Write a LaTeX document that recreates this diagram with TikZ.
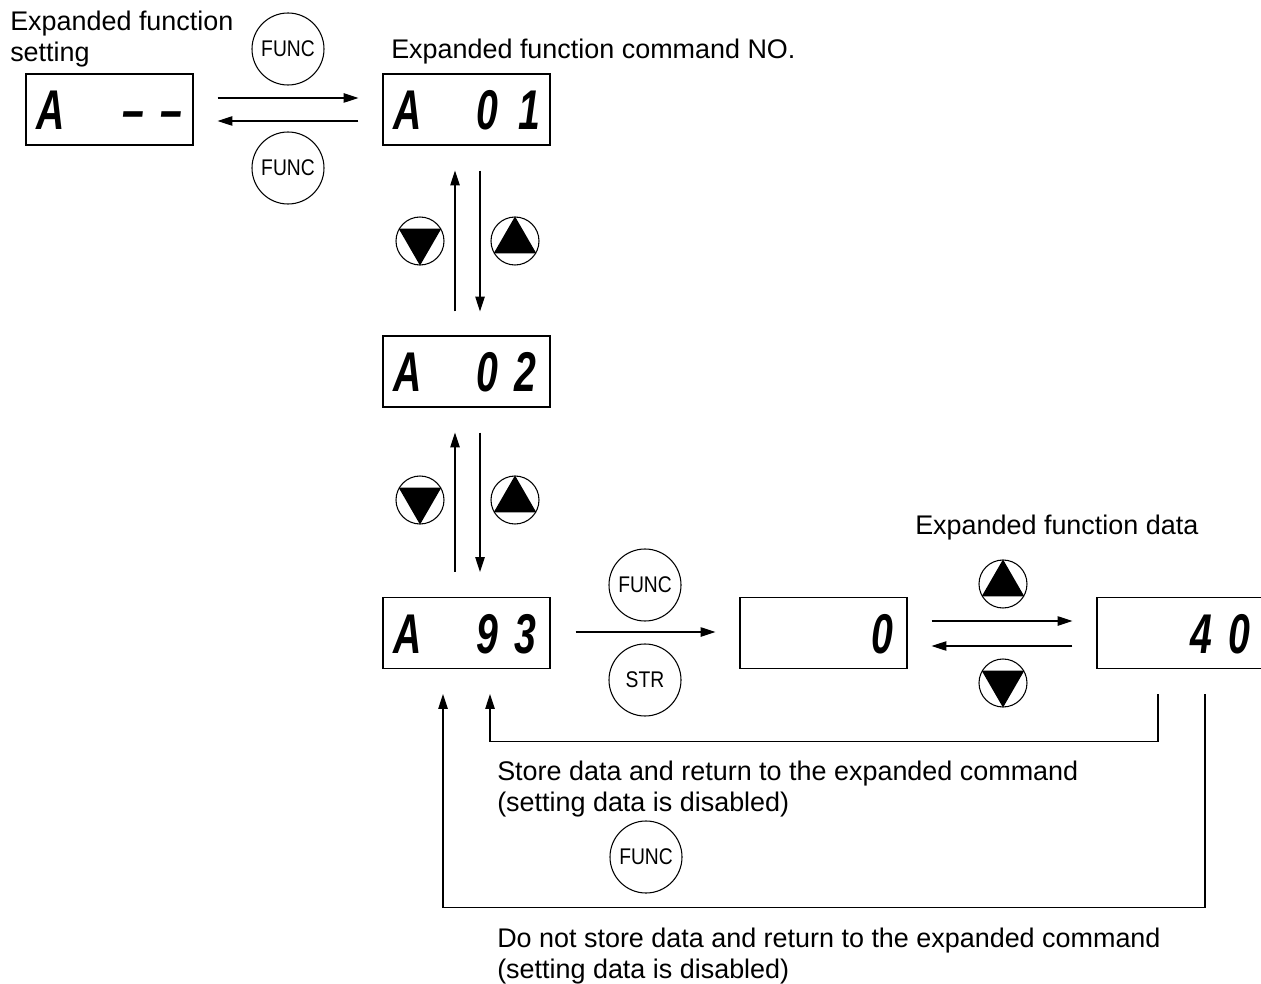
\documentclass[tikz,border=0pt]{standalone}
\usepackage{fontspec}
\setmainfont{Liberation Sans}
\newfontfamily\segfont{Liberation Sans}[FakeStretch=0.7]
\newfontfamily\btnfont{Liberation Sans}[FakeStretch=0.85]
\usetikzlibrary{calc,arrows.meta}
\begin{document}
\begin{tikzpicture}[x=0.75pt,y=-0.75pt,
  lbl/.style={font=\fontsize{20.2}{23.3}\selectfont, anchor=base west, inner sep=0},
  disp/.style={draw, line width=0.9pt, minimum width=125.25pt, minimum height=53.25pt, inner sep=0},
  dig/.style={font=\segfont\bfseries\itshape\fontsize{42}{42}\selectfont, anchor=base, inner sep=0},
  btn/.style={draw, circle, line width=0.8pt, minimum size=54pt, inner sep=0, font=\btnfont\fontsize{17}{17}\selectfont},
  keyb/.style={draw, circle, line width=0.8pt, minimum size=36pt, inner sep=0},
  arr/.style={line width=0.9pt, -{Triangle[length=11pt,width=7pt]}},
  ln/.style={line width=0.9pt}]
\useasboundingbox (0,0) rectangle (1261,984);

% labels
\node[lbl] (t1a) at (10,31) {Expanded function};
\node[lbl] (t1b) at (10,62) {setting};
\node[lbl] (t2) at (391,59) {Expanded function command NO.};
\node[lbl] (t3) at (915,534) {Expanded function data};
\node[lbl] (t4a) at (497,780) {Store data and return to the expanded command};
\node[lbl] (t4b) at (497,811) {(setting data is disabled)};
\node[lbl] (t5a) at (497,947) {Do not store data and return to the expanded command};
\node[lbl] (t5b) at (497,978) {(setting data is disabled)};

% displays
\node[disp] (b1) at (109.5,109.5) {};
\node[disp] (b2) at (466.5,109.5) {};
\node[disp] (b3) at (466.5,371.5) {};
\node[disp] (b4) at (466.5,633) {};
\node[disp] (b5) at (823.5,633) {};
\node[disp] (b6) at (1180.5,633) {};

% display contents
\node[dig] (b1a) at ($(b1.south west)+(25,-16)$) {A};
\node[dig] (b1b) at ($(b1.south west)+(108,-16)$) {–};
\node[dig] (b1c) at ($(b1.south west)+(146,-16)$) {–};
\node[dig] (b2a) at ($(b2.south west)+(25,-16)$) {A};
\node[dig] (b2b) at ($(b2.south west)+(105,-16)$) {0};
\node[dig] (b2c) at ($(b2.south west)+(147,-16)$) {1};
\node[dig] (b3a) at ($(b3.south west)+(25,-16)$) {A};
\node[dig] (b3b) at ($(b3.south west)+(105,-16)$) {0};
\node[dig] (b3c) at ($(b3.south west)+(143,-16)$) {2};
\node[dig] (b4a) at ($(b4.south west)+(25,-16)$) {A};
\node[dig] (b4b) at ($(b4.south west)+(105,-16)$) {9};
\node[dig] (b4c) at ($(b4.south west)+(143,-16)$) {3};
\node[dig] (b5c) at ($(b5.south west)+(143,-16)$) {0};
\node[dig] (b6b) at ($(b6.south west)+(105,-16)$) {4};
\node[dig] (b6c) at ($(b6.south west)+(143,-16)$) {0};

% buttons
\node[btn] (f1) at (288,49) {FUNC};
\node[btn] (f2) at (288,168) {FUNC};
\node[btn] (f3) at (645,585) {FUNC};
\node[btn] (s1) at (645,680) {STR};
\node[btn] (f4) at (646,857) {FUNC};

\node[keyb] (d1) at (420,241) {};
\node[keyb] (u1) at (515,241) {};
\node[keyb] (d2) at (420,500) {};
\node[keyb] (u2) at (515,500) {};
\node[keyb] (u3) at (1003,584) {};
\node[keyb] (d3) at (1003,683) {};
\foreach \k in {d1,d2,d3} \fill (\k.270) -- (\k.30) -- (\k.150) -- cycle;
\foreach \k in {u1,u2,u3} \fill (\k.90) -- (\k.210) -- (\k.330) -- cycle;

% arrows
\draw[arr] ($(b1.east)+(24,-11.5)$) -- ($(b2.west)+(-24,-11.5)$);
\draw[arr] ($(b2.west)+(-24,11.5)$) -- ($(b1.east)+(24,11.5)$);

\draw[arr] ($(b3.north)+(-11.5,-24)$) -- ($(b2.south)+(-11.5,25)$);
\draw[arr] ($(b2.south)+(13.5,25)$) -- ($(b3.north)+(13.5,-24)$);
\draw[arr] ($(b4.north)+(-11.5,-25)$) -- ($(b3.south)+(-11.5,25)$);
\draw[arr] ($(b3.south)+(13.5,25)$) -- ($(b4.north)+(13.5,-25)$);

\draw[arr] ($(b4.east)+(25,-1)$) -- ($(b5.west)+(-24,-1)$);
\draw[arr] ($(b5.east)+(24,-12)$) -- ($(b6.west)+(-24,-12)$);
\draw[arr] ($(b6.west)+(-24,13)$) -- ($(b5.east)+(24,13)$);

\coordinate (r1s) at ($(b6.south)+(-22.5,25)$);
\coordinate (r1e) at ($(b4.south)+(23.5,25)$);
\coordinate (r2s) at ($(b6.south)+(24.5,25)$);
\coordinate (r2e) at ($(b4.south)+(-23.5,25)$);
\draw[arr] (r1s) -- ++(0,47) -| (r1e);
\draw[arr] (r2s) -- ++(0,213) -| (r2e);
\end{tikzpicture}
\end{document}
